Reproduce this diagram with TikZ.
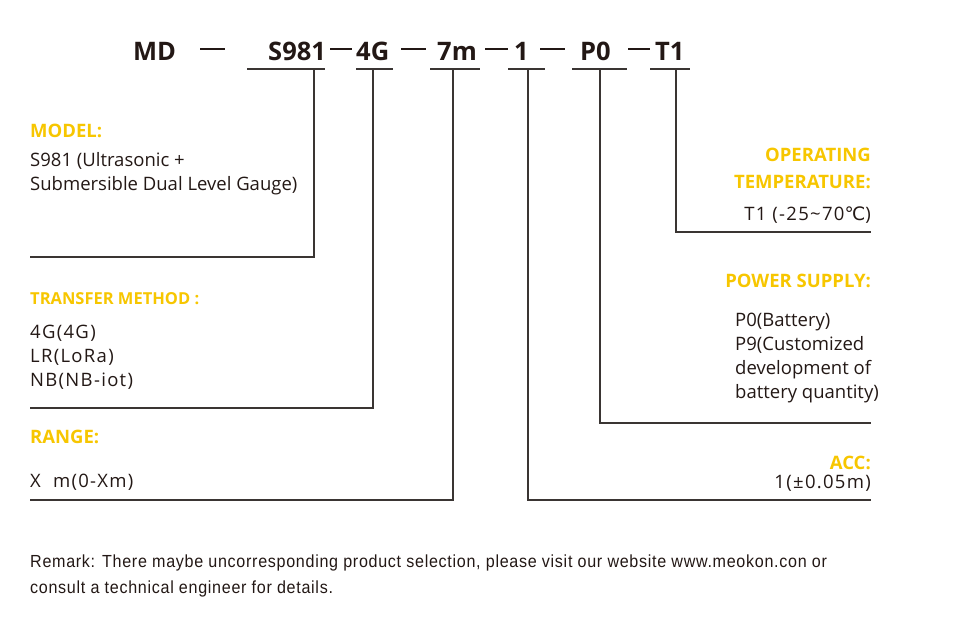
\documentclass[tikz,border=0pt]{standalone}
\usepackage{fontspec}
\setmainfont{Open Sans}
\newfontfamily\remarkfont[FakeStretch=0.92,LetterSpace=4]{Liberation Sans}
\newfontfamily\symfont{DejaVu Sans}
\usepackage{xcolor}
\definecolor{cText}{HTML}{231815}
\definecolor{cTitle}{HTML}{F7C600}
\definecolor{cLine}{HTML}{3A3533}
\usetikzlibrary{positioning}
\tikzset{
  code-part/.style={inner sep=0pt,anchor=base west,text=cText,
    font=\fontsize{25.5}{28}\selectfont\bfseries},
  code-dash/.style={draw=cText,line width=2.4pt},
  code-line/.style={draw=cLine,line width=1.2pt},
  leader/.style={draw=cLine,line width=1.4pt},
  title-l/.style={inner sep=0pt,anchor=base west,text=cTitle,
    font=\fontsize{18.5}{27}\selectfont\bfseries},
  title-r/.style={title-l,anchor=base east,align=right},
  body-l/.style={inner sep=0pt,anchor=base west,align=left,text=cText,
    font=\fontsize{18.5}{24}\selectfont},
  body-r/.style={body-l,anchor=base east,align=right},
  tracked/.style={font=\fontsize{18.5}{24}\selectfont\addfontfeature{LetterSpace=7}},
  remark/.style={inner sep=0pt,anchor=base west,align=left,text=cText,
    font=\fontsize{17.5}{26}\remarkfont},
}
\begin{document}
\begin{tikzpicture}[x=1pt,y=-1pt]
  \useasboundingbox (0,0) rectangle (973,618);
  % code line
  \node[code-part] (md) at (133,60) {MD};
  \node[code-part] (s981) at (268,60) {S981};
  \node[code-part] (tg) at (356,60) {4G};
  \node[code-part] (rng) at (437,60) {7m};
  \node[code-part] (acc) at (514,60) {1};
  \node[code-part] (pw) at (580,60) {P0};
  \node[code-part] (tmp) at (655,60) {T1};
  \foreach \a/\b in {200/225,330/352,401/426,485/508,540/565,628/650}
    \draw[code-dash] (\a,49) -- (\b,49);
  % underlines
  \foreach \a/\b in {247/325,356/393,430/480,508/545,572/627,650/690}
    \draw[code-line] (\a,69) -- (\b,69);
  % leaders
  \coordinate (s981-top) at (314,69);
  \coordinate (tg-top) at (373,69);
  \coordinate (rng-top) at (453,69);
  \coordinate (acc-top) at (528,69);
  \coordinate (pw-top) at (600,69);
  \coordinate (tmp-top) at (676,69);
  \coordinate (s981-end) at (30,257);
  \coordinate (tg-end) at (30,408);
  \coordinate (rng-end) at (30,500);
  \coordinate (acc-end) at (871,500);
  \coordinate (pw-end) at (871,423);
  \coordinate (tmp-end) at (871,232);
  \draw[leader] (s981-top) |- (s981-end);
  \draw[leader] (tg-top) |- (tg-end);
  \draw[leader] (rng-top) |- (rng-end);
  \draw[leader] (acc-top) |- (acc-end);
  \draw[leader] (pw-top) |- (pw-end);
  \draw[leader] (tmp-top) |- (tmp-end);
  % left column (base = last line)
  \node[title-l] (model-t) at (30,137) {MODEL:};
  \node[body-l] (model-b) at (30,190) {S981 (Ultrasonic +\\Submersible Dual Level Gauge)};
  \node[title-l,font=\fontsize{16.5}{18}\selectfont\bfseries] (tm-t) at (30,304) {TRANSFER METHOD :};
  \node[body-l,tracked] (tm-b) at (30,386) {4G(4G)\\LR(LoRa)\\NB(NB-iot)};
  \node[title-l] (rng-t) at (30,443) {RANGE:};
  \node[body-l,tracked] (rng-b) at (30,487) {X\ \ m(0-Xm)};
  % right column
  \node[title-r] (tmp-t) at (871,188) {OPERATING\\TEMPERATURE:};
  \node[body-r,tracked] (tmp-b) at (871,220) {T1 (-25\textasciitilde70{\symfont\char"2103})};
  \node[title-r] (pw-t) at (871,287) {POWER SUPPLY:};
  \node[body-l] (pw-b) at (735,398) {P0(Battery)\\P9(Customized\\development of\\battery quantity)};
  \node[title-r] (acc-t) at (871,469) {ACC:};
  \node[body-r,tracked] (acc-b) at (871,488) {1(\char"00B1 0.05m)};
  % remark
  \node[remark] (note) at (30,593) {Remark: There maybe uncorresponding product selection, please visit our website www.meokon.con or\\consult a technical engineer for details.};
\end{tikzpicture}
\end{document}
